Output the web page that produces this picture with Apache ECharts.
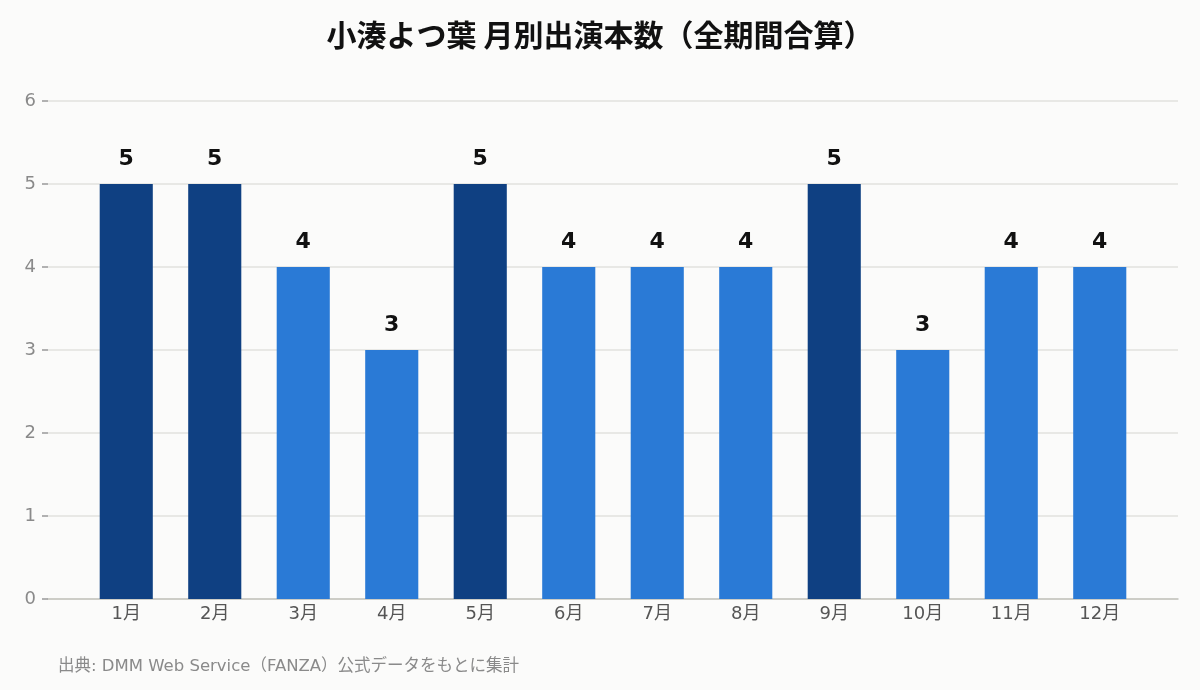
<!DOCTYPE html>
<html>
<head>
<meta charset="utf-8">
<script src="https://cdn.jsdelivr.net/npm/echarts@6/dist/echarts.min.js"></script>
<style>
  html, body { margin: 0; padding: 0; background: #fbfbfa; }
  #chart { width: 1200px; height: 690px; }
</style>
</head>
<body>
<div id="chart"></div>
<script>
// data
const MONTHS = ["1月","2月","3月","4月","5月","6月","7月","8月","9月","10月","11月","12月"]
const COUNTS = [5, 5, 4, 3, 5, 4, 4, 4, 5, 3, 4, 4]
const Y_TICKS = [0, 1, 2, 3, 4, 5, 6]

const DARK = "#0f4082"
const LIGHT = "#2a7ad6"
const FONT = "'DejaVu Sans', 'Noto Sans CJK JP', sans-serif"

const maxCount = Math.max(...COUNTS)

const chart = echarts.init(document.getElementById("chart"))

const option = {
  animation: false,
  backgroundColor: "#fbfbfa",
  textStyle: { fontFamily: FONT },

  title: {
    text: "小湊よつ葉 月別出演本数（全期間合算）",
    left: "center",
    top: 15,
    textStyle: {
      fontFamily: "'Noto Sans CJK JP', sans-serif",
      fontWeight: "bold",
      fontSize: 30,
      color: "#111"
    }
  },

  graphic: [{
    type: "text",
    left: 58,
    top: 658,
    style: {
      text: "出典: DMM Web Service（FANZA）公式データをもとに集計",
      fontFamily: FONT,
      fontSize: 16.5,
      fill: "#8a8a8a"
    }
  }],

  // grid 0: wide frame for y-axis + gridlines, grid 1: bars
  grid: [
    { left: 48, right: 22, top: 101, bottom: 91 },
    { left: 82, right: 56, top: 101, bottom: 91 }
  ],

  xAxis: [
    {
      gridIndex: 0,
      type: "value",
      min: 0, max: 1,
      axisLine: { show: true, lineStyle: { color: "#c4c4bd", width: 1.5 } },
      axisTick: { show: false },
      axisLabel: { show: false },
      splitLine: { show: false }
    },
    {
      gridIndex: 1,
      type: "category",
      data: MONTHS,
      axisLine: { show: false },
      axisTick: { show: false },
      axisLabel: {
        color: "#555",
        fontSize: 18,
        margin: 6,
        fontFamily: FONT
      }
    }
  ],

  yAxis: [
    {
      gridIndex: 0,
      type: "value",
      min: Y_TICKS[0],
      max: Y_TICKS[Y_TICKS.length - 1],
      interval: 1,
      axisLine: { show: false },
      axisTick: { show: true, length: 6, lineStyle: { color: "#999", width: 1.5 } },
      axisLabel: { color: "#8a8a8a", fontSize: 18, margin: 12, fontFamily: FONT },
      splitLine: { show: true, lineStyle: { color: "#e2e2de", width: 1.5 } }
    },
    {
      gridIndex: 1,
      type: "value",
      min: Y_TICKS[0],
      max: Y_TICKS[Y_TICKS.length - 1],
      interval: 1,
      show: false,
      splitLine: { show: false }
    }
  ],

  series: [{
    type: "bar",
    xAxisIndex: 1,
    yAxisIndex: 1,
    barWidth: "60%",
    data: COUNTS.map(v => ({
      value: v,
      itemStyle: { color: v === maxCount ? DARK : LIGHT }
    })),
    label: {
      show: true,
      position: "top",
      distance: 14,
      color: "#111",
      fontWeight: "bold",
      fontSize: 22,
      fontFamily: FONT
    }
  }]
}

chart.setOption(option)
</script>
</body>
</html>
